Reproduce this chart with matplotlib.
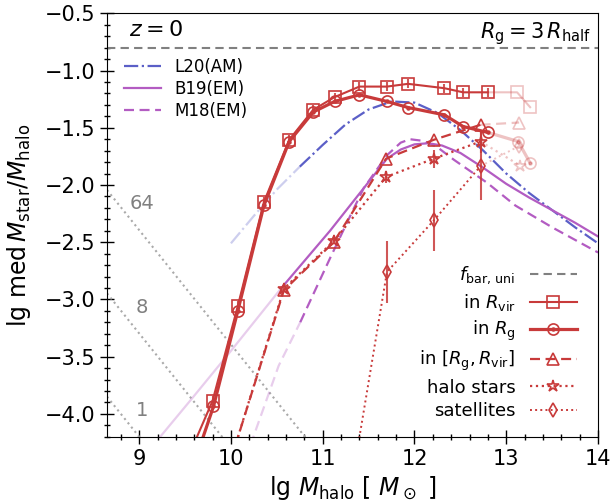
import math
import matplotlib
matplotlib.use("Agg")
import matplotlib.pyplot as plt
from matplotlib.ticker import MultipleLocator
from matplotlib.lines import Line2D
from matplotlib.legend_handler import HandlerTuple

# ---------------- data ----------------
# simulation series (last n_faded points drawn faded)
n_faded = 2
rvir_x = [9.55, 9.80, 10.075, 10.36, 10.635, 10.896, 11.129, 11.40, 11.70, 11.93, 12.325, 12.53, 12.80, 13.118, 13.26]
rvir_y = [-4.35, -3.886, -3.058, -2.148, -1.605, -1.343, -1.232, -1.14, -1.14, -1.116, -1.154, -1.19, -1.19, -1.19, -1.32]

rg_x = [9.55, 9.81, 10.075, 10.36, 10.635, 10.896, 11.129, 11.40, 11.70, 11.93, 12.325, 12.53, 12.80, 13.13, 13.26]
rg_y = [-4.55, -3.935, -3.10, -2.177, -1.62, -1.363, -1.27, -1.212, -1.27, -1.323, -1.387, -1.489, -1.541, -1.62, -1.808]

shell_x = [10.0, 10.577, 11.12, 11.69, 12.21, 12.72, 13.14]
shell_y = [-4.40, -2.92, -2.50, -1.77, -1.605, -1.474, -1.454]

halo_x = [10.0, 10.577, 11.12, 11.69, 12.21, 12.72, 13.15]
halo_y = [-4.40, -2.906, -2.49, -1.93, -1.77, -1.62, -1.83]
halo_err = [0.0, 0.03, 0.03, 0.05, 0.08, 0.1, 0.0]

sat_x = [11.38, 11.70, 12.21, 12.72, 13.14]
sat_y = [-4.30, -2.76, -2.31, -1.835, -1.66]
sat_err = [0.0, 0.27, 0.27, 0.30, 0.0]

# empirical models (faded below x_valid)
l20_x = [10.0, 10.25, 10.5, 10.75, 11.0, 11.25, 11.5, 11.75, 12.0, 12.25, 12.5, 12.75, 13.0, 13.25, 13.5, 13.75, 14.0]
l20_y = [-2.51, -2.27, -2.04, -1.84, -1.65, -1.47, -1.34, -1.27, -1.28, -1.37, -1.52, -1.70, -1.90, -2.07, -2.22, -2.37, -2.51]
l20_valid = 10.6

b19_x = [9.0, 9.23, 9.555, 10.0, 10.28, 10.55, 11.08, 11.445, 11.7, 11.85, 12.0, 12.15, 12.3, 12.5, 12.75, 13.0, 13.25, 13.5, 13.75, 14.0]
b19_y = [-4.43, -4.2, -3.886, -3.45, -3.17, -2.90, -2.40, -2.03, -1.77, -1.69, -1.645, -1.635, -1.655, -1.72, -1.85, -1.99, -2.11, -2.22, -2.33, -2.45]
b19_valid = 10.3

m18_x = [10.15, 10.245, 10.52, 10.755, 11.08, 11.3, 11.445, 11.7, 11.85, 11.95, 12.1, 12.25, 12.43, 12.79, 13.1, 13.5, 14.0]
m18_y = [-4.4, -4.2, -3.58, -3.20, -2.64, -2.27, -2.03, -1.74, -1.63, -1.60, -1.615, -1.67, -1.78, -1.98, -2.18, -2.37, -2.59]
m18_valid = 10.53

# resolution lines
res_N = [1, 8, 64]
res_labels = ["1", "8", "64"]
lg_mpart = 4.8
fbar_lg = -0.8

# ---------------- style ----------------
RED = "#c83a3a"
BLUE = "#5b5fc7"
PURP = "#b35cc2"
FADE = 0.3
DASH = (4.5, 2.5)

fig = plt.figure(figsize=(6.13, 5.04), dpi=100)
ax = fig.add_axes([0.1746, 0.1335, 0.801, 0.840])
xlim = (8.65, 14.0)
ylim = (-4.2, -0.5)

# resolution lines
for N, lab in zip(res_N, res_labels):
    c = lg_mpart + math.log10(N)
    ax.plot([xlim[0], 12.0], [c - xlim[0], c - 12.0], ls=":", color="#aaaaaa", lw=1.5)
    ax.text(9.03, c - xlim[0] - 0.12, lab, color="gray", fontsize=14, ha="center", va="center")

# f_bar line
ax.axhline(fbar_lg, color="gray", ls="--", lw=1.5, dashes=(4, 2.5))

def model(x, y, xv, color, ls, lw, label):
    xa = [a for a in x if a <= xv]
    ya = [b for a, b in zip(x, y) if a <= xv]
    xb = [a for a in x if a >= xv]
    yb = [b for a, b in zip(x, y) if a >= xv]
    if xa and xb and xa[-1] != xb[0]:
        xa.append(xb[0]); ya.append(yb[0])
    kw = dict(dashes=DASH) if ls == "--" else {}
    ax.plot(xa, ya, color=color, ls=ls, lw=lw, alpha=FADE, **kw)
    return ax.plot(xb, yb, color=color, ls=ls, lw=lw, label=label, **kw)[0]

h_l20 = model(l20_x, l20_y, l20_valid, BLUE, "-.", 1.6, "L20(AM)")
h_b19 = model(b19_x, b19_y, b19_valid, PURP, "-", 1.6, "B19(EM)")
h_m18 = model(m18_x, m18_y, m18_valid, PURP, "--", 1.6, "M18(EM)")

def series(x, y, yerr, ls, lw, marker, ms, nf, dot=False):
    k = len(x) - nf
    xm, ym = x[:k], y[:k]
    xf, yf = x[k - 1:], y[k - 1:]
    kw = dict(dashes=DASH) if ls == "--" else {}
    h, = ax.plot(xm, ym, color=RED, ls=ls, lw=lw, marker=marker, ms=ms,
                 mfc="none", mec=RED, mew=1.2, **kw)
    ax.plot(xf, yf, color=RED, ls=ls, lw=lw, marker=marker, ms=ms, mfc="none",
            mec=RED, mew=1.2, alpha=FADE, markevery=list(range(1, len(xf))), **kw)
    if dot:
        hd, = ax.plot(xm, ym, ls="none", marker="o", ms=2.2, color=RED)
        ax.plot(xf[1:], yf[1:], ls="none", marker="o", ms=2.2, color=RED, alpha=FADE)
        h = (h, hd)
    if yerr is not None:
        ax.errorbar(xm, ym, yerr=yerr[:k], fmt="none", ecolor=RED, elinewidth=1.5, alpha=0.85)
    return h

h_rvir = series(rvir_x, rvir_y, [0.04] * len(rvir_x), "-", 1.5, "s", 8, n_faded)
h_rg = series(rg_x, rg_y, None, "-", 2.3, "o", 8, n_faded, dot=True)
h_sh = series(shell_x, shell_y, None, "--", 1.6, "^", 8, 1)
h_hs = series(halo_x, halo_y, halo_err, ":", 1.6, "*", 9, 1)
h_sat = series(sat_x, sat_y, sat_err, ":", 1.4, "d", 7, 1)

ax.set_xlim(*xlim)
ax.set_ylim(*ylim)
ax.xaxis.set_major_locator(MultipleLocator(1))
ax.xaxis.set_minor_locator(MultipleLocator(0.2))
ax.yaxis.set_major_locator(MultipleLocator(0.5))
ax.yaxis.set_minor_locator(MultipleLocator(0.1))
ax.tick_params(which="both", direction="inout", top=False, right=False, labelsize=15)
ax.tick_params(which="major", length=10, width=1)
ax.tick_params(which="minor", length=5, width=1)

ax.set_xlabel(r"lg $M_{\rm halo}$ [ $M_\odot$ ]", fontsize=17, labelpad=4)
ax.set_ylabel(r"lg med$\,M_{\rm star}/M_{\rm halo}$", fontsize=17, labelpad=8)

ax.text(0.045, 0.985, r"$z=0$", transform=ax.transAxes, fontsize=16, ha="left", va="top")
ax.text(0.985, 0.985, r"$R_{\rm g}=3\,R_{\rm half}$", transform=ax.transAxes, fontsize=15, ha="right", va="top")

leg1 = ax.legend(handles=[h_l20, h_b19, h_m18], loc="upper left", bbox_to_anchor=(0.005, 0.93),
                 frameon=False, fontsize=12, handlelength=2.2, labelspacing=0.25)
ax.add_artist(leg1)

hf = Line2D([], [], color="gray", ls="--", lw=1.5, dashes=(4, 2.5))
leg2 = ax.legend([hf, h_rvir, h_rg, h_sh, h_hs, h_sat],
                 [r"$f_{\rm bar,\,uni}$", r"in $R_{\rm vir}$", r"in $R_{\rm g}$",
                  r"in $[R_{\rm g},R_{\rm vir}]$", "halo stars", "satellites"],
                 loc="lower right", bbox_to_anchor=(0.99, 0.0), frameon=False, fontsize=13,
                 markerfirst=False, handlelength=2.6, labelspacing=0.32,
                 handler_map={tuple: HandlerTuple(ndivide=1)})

fig.savefig("out.png", dpi=100)
